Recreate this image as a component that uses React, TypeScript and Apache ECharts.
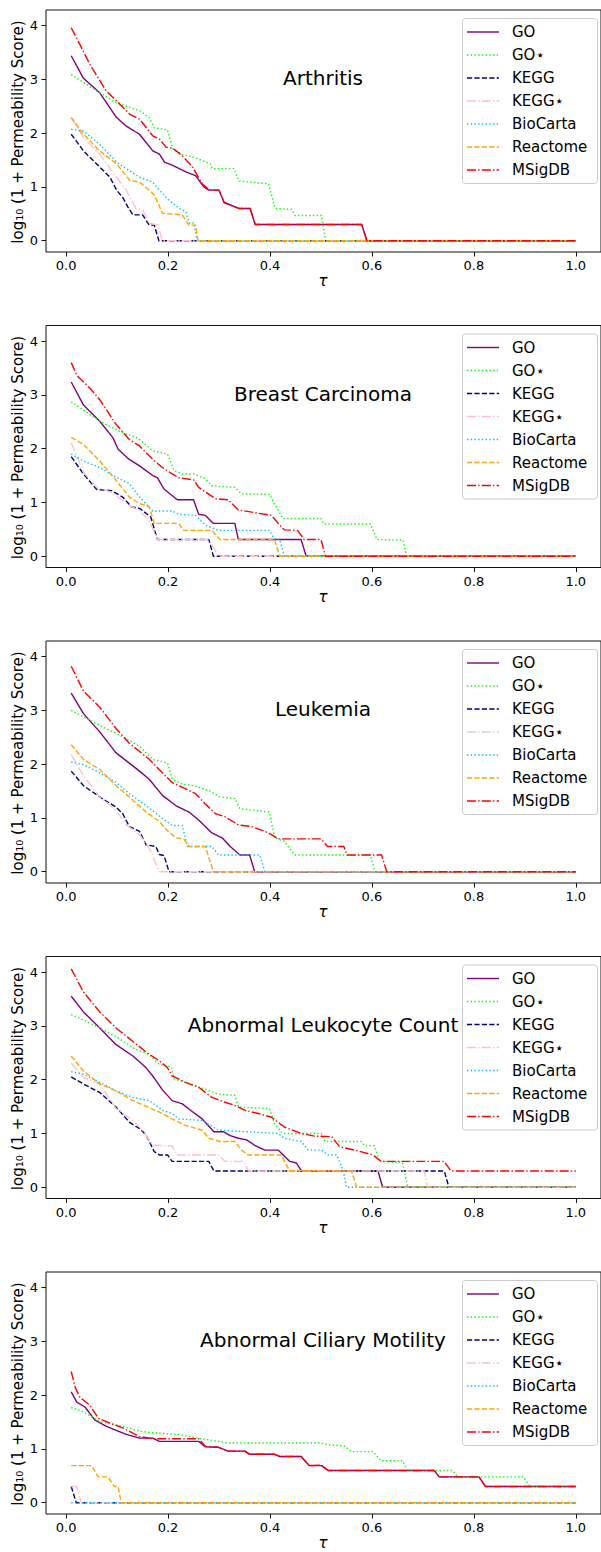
import React, { useEffect, useRef } from "react";
import * as echarts from "echarts";

type Pts = [number, number][];

const TAU_TICKS = [0, 0.2, 0.4, 0.6, 0.8, 1.0];
const SCORE_TICKS = [0, 1, 2, 3, 4];
const SERIES_NAMES = ["GO", "GO\u22C6", "KEGG", "KEGG\u22C6", "BioCarta", "Reactome", "MSigDB"];
const PANEL_TITLES = ["Arthritis", "Breast Carcinoma", "Leukemia", "Abnormal Leukocyte Count", "Abnormal Ciliary Motility"];

// ---------- Arthritis ----------
const arthritisGO: Pts = [[0.01,3.44],[0.034,3.02],[0.066,2.75],[0.099,2.29],[0.118,2.13],[0.144,1.98],[0.17,1.67],[0.183,1.61],[0.193,1.46],[0.209,1.4],[0.235,1.28],[0.254,1.21],[0.27,1.0],[0.28,0.94],[0.3,0.94],[0.31,0.71],[0.339,0.6],[0.361,0.6],[0.371,0.3],[0.58,0.3],[0.59,0],[1.0,0]];
const arthritisGOstar: Pts = [[0.01,3.09],[0.066,2.75],[0.099,2.56],[0.144,2.42],[0.163,2.29],[0.173,2.1],[0.199,2.06],[0.209,1.71],[0.228,1.6],[0.251,1.55],[0.283,1.43],[0.287,1.34],[0.329,1.34],[0.339,1.11],[0.397,1.06],[0.41,0.6],[0.443,0.58],[0.449,0.47],[0.501,0.47],[0.509,0],[1.0,0]];
const arthritisKEGG: Pts = [[0.01,1.98],[0.034,1.67],[0.066,1.37],[0.086,1.18],[0.099,0.94],[0.112,0.79],[0.121,0.63],[0.131,0.48],[0.15,0.48],[0.163,0.29],[0.173,0.29],[0.182,0],[1.0,0]];
const arthritisKEGGstar: Pts = [[0.01,2.29],[0.034,1.92],[0.066,1.61],[0.099,1.18],[0.118,0.94],[0.137,0.6],[0.15,0.57],[0.163,0.33],[0.18,0.29],[0.189,0],[1.0,0]];
const arthritisBioCarta: Pts = [[0.01,2.07],[0.034,2.04],[0.066,1.79],[0.099,1.46],[0.118,1.34],[0.144,1.18],[0.17,1.09],[0.183,0.94],[0.202,0.75],[0.222,0.6],[0.235,0.54],[0.241,0.33],[0.251,0.33],[0.257,0],[1.0,0]];
const arthritisReactome: Pts = [[0.01,2.29],[0.034,1.98],[0.066,1.67],[0.099,1.43],[0.125,1.12],[0.144,1.09],[0.163,0.94],[0.173,0.85],[0.189,0.51],[0.228,0.48],[0.241,0.29],[0.254,0.29],[0.259,0],[1.0,0]];
const arthritisMSigDB: Pts = [[0.01,3.96],[0.021,3.76],[0.047,3.27],[0.079,2.78],[0.099,2.6],[0.125,2.35],[0.144,2.26],[0.17,1.95],[0.183,1.89],[0.196,1.74],[0.209,1.72],[0.228,1.58],[0.248,1.37],[0.267,1.06],[0.28,0.95],[0.3,0.94],[0.31,0.71],[0.339,0.6],[0.361,0.6],[0.371,0.3],[0.58,0.3],[0.59,0],[1.0,0]];

// ---------- Breast Carcinoma ----------
const breastGO: Pts = [[0.01,3.24],[0.034,2.81],[0.066,2.51],[0.092,2.2],[0.102,1.99],[0.124,1.8],[0.144,1.68],[0.17,1.5],[0.179,1.46],[0.192,1.25],[0.218,1.05],[0.25,1.05],[0.26,0.78],[0.273,0.76],[0.289,0.61],[0.331,0.61],[0.338,0.31],[0.461,0.31],[0.471,0],[1.0,0]];
const breastGOstar: Pts = [[0.01,2.87],[0.034,2.72],[0.066,2.51],[0.105,2.32],[0.14,2.2],[0.17,1.96],[0.199,1.9],[0.212,1.59],[0.228,1.53],[0.25,1.53],[0.273,1.44],[0.286,1.31],[0.331,1.28],[0.344,1.16],[0.399,1.15],[0.425,0.7],[0.5,0.7],[0.506,0.6],[0.597,0.6],[0.61,0.31],[0.661,0.3],[0.668,0],[1.0,0]];
const breastKEGG: Pts = [[0.01,1.85],[0.034,1.53],[0.06,1.24],[0.089,1.22],[0.111,1.1],[0.128,0.92],[0.144,0.89],[0.166,0.73],[0.179,0.31],[0.28,0.31],[0.289,0],[1.0,0]];
const breastKEGGstar: Pts = [[0.01,2.11],[0.034,1.56],[0.06,1.28],[0.089,1.19],[0.118,0.98],[0.144,0.84],[0.163,0.67],[0.179,0.31],[0.28,0.31],[0.299,0],[1.0,0]];
const breastBioCarta: Pts = [[0.01,1.9],[0.034,1.77],[0.066,1.65],[0.098,1.47],[0.124,1.35],[0.144,1.1],[0.17,0.84],[0.208,0.84],[0.221,0.78],[0.254,0.76],[0.273,0.58],[0.299,0.48],[0.399,0.48],[0.409,0.31],[0.419,0.31],[0.428,0],[1.0,0]];
const breastReactome: Pts = [[0.01,2.21],[0.034,2.08],[0.066,1.77],[0.098,1.41],[0.124,1.1],[0.144,0.98],[0.163,0.92],[0.173,0.61],[0.221,0.61],[0.231,0.48],[0.286,0.48],[0.302,0.31],[0.409,0.31],[0.419,0],[1.0,0]];
const breastMSigDB: Pts = [[0.01,3.6],[0.021,3.36],[0.047,3.12],[0.066,2.91],[0.098,2.45],[0.124,2.17],[0.144,2.05],[0.17,1.8],[0.189,1.65],[0.208,1.53],[0.221,1.46],[0.25,1.42],[0.26,1.28],[0.293,1.07],[0.318,1.05],[0.338,0.86],[0.37,0.81],[0.403,0.76],[0.416,0.61],[0.428,0.49],[0.454,0.48],[0.467,0.31],[0.5,0.31],[0.509,0],[1.0,0]];

// ---------- Leukemia ----------
const leukemiaGO: Pts = [[0.01,3.32],[0.034,2.94],[0.066,2.6],[0.098,2.21],[0.124,2.02],[0.144,1.87],[0.163,1.72],[0.189,1.42],[0.215,1.23],[0.241,1.11],[0.26,0.96],[0.286,0.72],[0.306,0.63],[0.322,0.47],[0.341,0.31],[0.36,0.31],[0.37,0],[1.0,0]];
const leukemiaGOstar: Pts = [[0.01,3.0],[0.066,2.72],[0.111,2.51],[0.144,2.33],[0.17,2.09],[0.199,2.02],[0.208,1.72],[0.228,1.63],[0.25,1.6],[0.28,1.51],[0.302,1.39],[0.331,1.36],[0.341,1.17],[0.399,1.11],[0.409,0.63],[0.428,0.57],[0.448,0.31],[0.597,0.31],[0.606,0],[1.0,0]];
const leukemiaKEGG: Pts = [[0.01,1.87],[0.034,1.6],[0.066,1.39],[0.098,1.2],[0.111,1.08],[0.124,0.84],[0.144,0.75],[0.157,0.5],[0.176,0.47],[0.183,0.32],[0.192,0.3],[0.202,0],[1.0,0]];
const leukemiaKEGGstar: Pts = [[0.01,2.18],[0.034,1.78],[0.066,1.39],[0.098,1.14],[0.118,0.87],[0.144,0.69],[0.163,0.44],[0.183,0],[1.0,0]];
const leukemiaBioCarta: Pts = [[0.01,2.04],[0.034,1.99],[0.066,1.84],[0.098,1.66],[0.124,1.45],[0.157,1.23],[0.189,0.99],[0.208,0.86],[0.228,0.86],[0.238,0.47],[0.286,0.47],[0.299,0.31],[0.38,0.31],[0.39,0],[1.0,0]];
const leukemiaReactome: Pts = [[0.01,2.36],[0.034,2.09],[0.066,1.9],[0.098,1.6],[0.124,1.39],[0.157,1.11],[0.183,0.93],[0.199,0.76],[0.215,0.63],[0.231,0.61],[0.241,0.47],[0.273,0.47],[0.289,0],[1.0,0]];
const leukemiaMSigDB: Pts = [[0.01,3.82],[0.034,3.36],[0.066,3.06],[0.098,2.66],[0.124,2.39],[0.163,2.09],[0.192,1.81],[0.208,1.66],[0.228,1.57],[0.254,1.45],[0.273,1.26],[0.293,1.08],[0.312,1.02],[0.338,0.87],[0.364,0.84],[0.39,0.75],[0.403,0.69],[0.416,0.61],[0.5,0.61],[0.513,0.47],[0.545,0.47],[0.551,0.31],[0.619,0.31],[0.629,0],[1.0,0]];

// ---------- Abnormal Leukocyte Count ----------
const leukocyteGO: Pts = [[0.01,3.55],[0.034,3.26],[0.066,2.96],[0.098,2.65],[0.131,2.44],[0.157,2.22],[0.173,2.03],[0.189,1.81],[0.208,1.61],[0.228,1.55],[0.244,1.43],[0.267,1.27],[0.29,1.03],[0.309,1.03],[0.322,0.96],[0.338,0.91],[0.354,0.88],[0.37,0.78],[0.39,0.69],[0.416,0.69],[0.439,0.48],[0.452,0.45],[0.462,0.3],[0.612,0.3],[0.621,0],[1.0,0]];
const leukocyteGOstar: Pts = [[0.01,3.21],[0.034,3.11],[0.066,2.96],[0.098,2.8],[0.137,2.56],[0.163,2.47],[0.183,2.28],[0.206,2.24],[0.212,2.01],[0.234,1.95],[0.273,1.82],[0.299,1.73],[0.331,1.71],[0.338,1.49],[0.399,1.46],[0.409,1.18],[0.425,1.0],[0.501,1.0],[0.508,0.85],[0.579,0.85],[0.586,0.77],[0.605,0.77],[0.615,0.48],[0.66,0.46],[0.67,0],[1.0,0]];
const leukocyteKEGG: Pts = [[0.01,2.05],[0.034,1.92],[0.066,1.76],[0.098,1.49],[0.124,1.21],[0.144,1.09],[0.157,0.97],[0.173,0.66],[0.183,0.6],[0.199,0.6],[0.208,0.48],[0.28,0.48],[0.29,0.3],[0.742,0.3],[0.751,0],[1.0,0]];
const leukocyteKEGGstar: Pts = [[0.01,2.31],[0.034,2.04],[0.066,1.92],[0.098,1.46],[0.131,1.24],[0.15,1.06],[0.17,0.78],[0.208,0.77],[0.218,0.6],[0.299,0.6],[0.312,0.48],[0.348,0.48],[0.358,0.3],[0.703,0.3],[0.709,0],[1.0,0]];
const leukocyteBioCarta: Pts = [[0.01,2.15],[0.034,2.1],[0.066,1.95],[0.098,1.79],[0.131,1.67],[0.163,1.61],[0.189,1.43],[0.208,1.37],[0.221,1.27],[0.267,1.24],[0.299,1.06],[0.416,1.0],[0.428,0.91],[0.461,0.85],[0.475,0.69],[0.501,0.69],[0.514,0.6],[0.531,0.6],[0.544,0.3],[0.55,0],[1.0,0]];
const leukocyteReactome: Pts = [[0.01,2.44],[0.034,2.16],[0.066,1.92],[0.098,1.79],[0.131,1.61],[0.163,1.48],[0.189,1.37],[0.208,1.27],[0.234,1.15],[0.267,1.06],[0.28,0.91],[0.302,0.85],[0.331,0.85],[0.344,0.69],[0.357,0.6],[0.422,0.6],[0.438,0.31],[0.56,0.3],[0.57,0],[1.0,0]];
const leukocyteMSigDB: Pts = [[0.01,4.06],[0.034,3.63],[0.066,3.26],[0.098,2.96],[0.131,2.71],[0.163,2.47],[0.183,2.35],[0.199,2.22],[0.208,2.07],[0.234,1.95],[0.26,1.86],[0.286,1.67],[0.312,1.58],[0.331,1.52],[0.351,1.43],[0.377,1.37],[0.403,1.3],[0.428,1.12],[0.461,1.0],[0.487,0.95],[0.521,0.94],[0.537,0.75],[0.566,0.69],[0.602,0.6],[0.618,0.48],[0.742,0.48],[0.755,0.3],[1.0,0.3]];

// ---------- Abnormal Ciliary Motility ----------
const ciliaryGO: Pts = [[0.01,2.06],[0.021,1.87],[0.037,1.78],[0.056,1.54],[0.079,1.42],[0.102,1.33],[0.118,1.27],[0.144,1.2],[0.17,1.2],[0.183,1.14],[0.26,1.14],[0.273,1.04],[0.299,1.03],[0.318,0.96],[0.351,0.96],[0.36,0.9],[0.409,0.9],[0.419,0.86],[0.461,0.86],[0.477,0.69],[0.501,0.69],[0.514,0.6],[0.722,0.6],[0.732,0.48],[0.81,0.48],[0.823,0.3],[1.0,0.3]];
const ciliaryGOstar: Pts = [[0.01,1.77],[0.034,1.69],[0.066,1.51],[0.111,1.42],[0.144,1.33],[0.17,1.3],[0.221,1.27],[0.26,1.2],[0.286,1.16],[0.318,1.11],[0.501,1.11],[0.514,1.08],[0.547,1.05],[0.56,0.95],[0.602,0.95],[0.618,0.78],[0.66,0.78],[0.67,0.6],[0.758,0.6],[0.768,0.48],[0.897,0.48],[0.91,0.3],[1.0,0.3]];
const ciliaryKEGG: Pts = [[0.01,0.3],[0.02,0],[1.0,0]];
const ciliaryKEGGstar: Pts = [[0.01,0.3],[0.02,0.3],[0.03,0],[1.0,0]];
const ciliaryBioCarta: Pts = [[0.01,0],[1.0,0]];
const ciliaryReactome: Pts = [[0.01,0.69],[0.05,0.69],[0.063,0.48],[0.082,0.48],[0.095,0.3],[0.102,0.3],[0.108,0],[1.0,0]];
const ciliaryMSigDB: Pts = [[0.01,2.44],[0.018,2.14],[0.027,1.96],[0.047,1.81],[0.063,1.57],[0.086,1.48],[0.111,1.39],[0.144,1.23],[0.17,1.19],[0.26,1.19],[0.273,1.05],[0.299,1.03],[0.318,0.96],[0.351,0.96],[0.36,0.9],[0.409,0.9],[0.419,0.86],[0.461,0.86],[0.477,0.69],[0.501,0.7],[0.514,0.6],[0.722,0.6],[0.732,0.48],[0.81,0.48],[0.823,0.3],[1.0,0.3]];

const PANELS: Pts[][] = [
  [arthritisGO, arthritisGOstar, arthritisKEGG, arthritisKEGGstar, arthritisBioCarta, arthritisReactome, arthritisMSigDB],
  [breastGO, breastGOstar, breastKEGG, breastKEGGstar, breastBioCarta, breastReactome, breastMSigDB],
  [leukemiaGO, leukemiaGOstar, leukemiaKEGG, leukemiaKEGGstar, leukemiaBioCarta, leukemiaReactome, leukemiaMSigDB],
  [leukocyteGO, leukocyteGOstar, leukocyteKEGG, leukocyteKEGGstar, leukocyteBioCarta, leukocyteReactome, leukocyteMSigDB],
  [ciliaryGO, ciliaryGOstar, ciliaryKEGG, ciliaryKEGGstar, ciliaryBioCarta, ciliaryReactome, ciliaryMSigDB],
];

const LW = 1.4;
const DASHED = [3.7 * LW, 1.6 * LW];
const DOTTED = [1 * LW, 1.65 * LW];
const DASHDOT = [6.4 * LW, 1.6 * LW, 1 * LW, 1.6 * LW];
const STYLES: { color: string; dash: number[] | null }[] = [
  { color: "#800080", dash: null },
  { color: "#00ff00", dash: DOTTED },
  { color: "#000080", dash: DASHED },
  { color: "#ffc0cb", dash: DASHDOT },
  { color: "#00bfff", dash: DOTTED },
  { color: "#ffa500", dash: DASHED },
  { color: "#ff0000", dash: DASHDOT },
];

const FONT = '"DejaVu Sans", sans-serif';
const LEFT = 46;
const GRID_W = 558;
const GRID_H = 242;
const PITCH = 315.5;
const TOP0 = 10;

function buildOption() {
  const grid: any[] = [];
  const xAxis: any[] = [];
  const yAxis: any[] = [];
  const series: any[] = [];
  const graphic: any[] = [];

  PANELS.forEach((panel, i) => {
    const top = TOP0 + PITCH * i;
    grid.push({
      left: LEFT, top, width: GRID_W, height: GRID_H,
      show: true, borderColor: "#111", borderWidth: 1, backgroundColor: "transparent",
    });
    xAxis.push({
      type: "value", gridIndex: i, min: -0.0395, max: 1.0495, position: "bottom",
      splitLine: { show: false },
      axisLine: { show: false, onZero: false },
      axisTick: { show: true, inside: false, length: 4.5, customValues: TAU_TICKS, lineStyle: { color: "#111", width: 1 } },
      axisLabel: {
        show: true, customValues: TAU_TICKS, margin: 7, color: "#000", fontSize: 13, fontFamily: FONT,
        formatter: (v: number) => v.toFixed(1),
      },
    });
    yAxis.push({
      type: "value", gridIndex: i, min: -0.21, max: 4.29, position: "left",
      splitLine: { show: false },
      axisLine: { show: false, onZero: false },
      axisTick: { show: true, inside: false, length: 4.5, customValues: SCORE_TICKS, lineStyle: { color: "#111", width: 1 } },
      axisLabel: {
        show: true, customValues: SCORE_TICKS, margin: 8, color: "#000", fontSize: 13, fontFamily: FONT,
        formatter: (v: number) => String(Math.round(v)),
      },
    });
    panel.forEach((pts, k) => {
      const st = STYLES[k];
      series.push({
        type: "line", name: SERIES_NAMES[k], xAxisIndex: i, yAxisIndex: i,
        data: pts, symbol: "none", showSymbol: false, silent: true, clip: true,
        lineStyle: { color: st.color, width: LW, type: st.dash ? st.dash : "solid", cap: "butt", join: "round" },
      });
    });

    // panel title inside plot
    graphic.push({
      type: "text", x: 323, y: top + 68, z: 50,
      style: { text: PANEL_TITLES[i], font: `20px ${FONT}`, fill: "#000", align: "center", verticalAlign: "middle", textAlign: "center", textVerticalAlign: "middle" },
    });
    // y label
    graphic.push({
      type: "text", x: 18, y: top + 122, rotation: Math.PI / 2, z: 50,
      style: { text: "log\u2081\u2080 (1 + Permeability Score)", font: `15px ${FONT}`, fill: "#000", align: "center", verticalAlign: "middle", textAlign: "center", textVerticalAlign: "middle" },
    });
    // x label
    graphic.push({
      type: "text", x: 323, y: top + 271, z: 50,
      style: { text: "\u03C4", font: `italic 15px ${FONT}`, fill: "#000", align: "center", verticalAlign: "middle", textAlign: "center", textVerticalAlign: "middle" },
    });
    // legend box
    graphic.push({
      type: "rect", z: 100,
      shape: { x: 462.5, y: top + 8.5, width: 135, height: 165, r: 3 },
      style: { fill: "rgba(255,255,255,0.8)", stroke: "#cccccc", lineWidth: 1 },
    });
    SERIES_NAMES.forEach((name, k) => {
      const ry = top + 22 + 23 * k;
      const st = STYLES[k];
      graphic.push({
        type: "line", z: 101,
        shape: { x1: 467, y1: ry, x2: 499, y2: ry },
        style: { stroke: st.color, lineWidth: LW, lineDash: st.dash ? st.dash : null },
      });
      graphic.push({
        type: "text", x: 512, y: ry, z: 101,
        style: { text: name, font: `15px ${FONT}`, fill: "#000", align: "left", verticalAlign: "middle", textAlign: "left", textVerticalAlign: "middle" },
      });
    });
  });

  return {
    animation: false,
    backgroundColor: "#ffffff",
    grid, xAxis, yAxis, series, graphic,
  };
}

export default function App() {
  const ref = useRef<HTMLDivElement>(null);
  useEffect(() => {
    if (!ref.current) return;
    const chart = echarts.init(ref.current, null, { renderer: "svg" });
    chart.setOption(buildOption() as any);
    return () => chart.dispose();
  }, []);
  return (
    <div
      ref={ref}
      style={{ position: "absolute", left: 0, top: 0, width: 601, height: 1552, background: "#fff" }}
    />
  );
}
